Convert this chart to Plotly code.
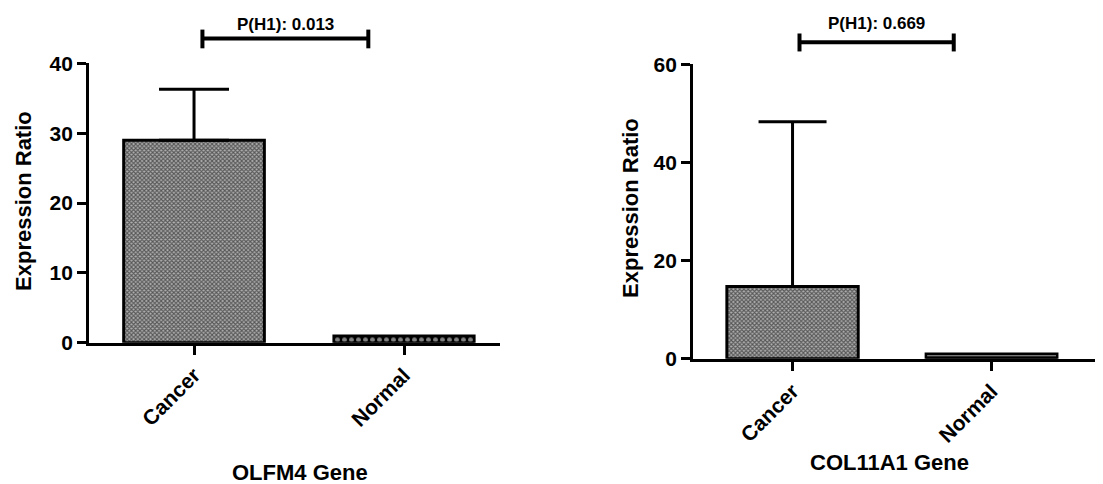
import plotly.graph_objects as go

categories = ["Cancer", "Normal"]
olfm4_mean = [29.0, 1.0]
olfm4_err = [7.3, 0.0]
col11a1_mean = [14.7, 1.0]
col11a1_err = [33.6, 0.0]
p_labels = ["P(H1): 0.013", "P(H1): 0.669"]
gene_titles = ["OLFM4 Gene", "COL11A1 Gene"]
y_ranges = [[0, 40], [0, 60]]
y_ticks = [[0, 10, 20, 30, 40], [0, 20, 40, 60]]

FONT = "Liberation Sans"
fig = go.Figure()

panels = [
    dict(mean=olfm4_mean, err=olfm4_err, xa="x", ya="y", width=0.67, cap=35, nshape="."),
    dict(mean=col11a1_mean, err=col11a1_err, xa="x2", ya="y2", width=0.66, cap=34, nshape="-"),
]

for p in panels:
    # Cancer bar with error bar
    fig.add_trace(go.Bar(
        x=[categories[0]], y=[p["mean"][0]], width=p["width"],
        xaxis=p["xa"], yaxis=p["ya"],
        marker=dict(color="white", line=dict(color="black", width=3),
                    pattern=dict(shape="x", size=3, solidity=0.6,
                                 fgcolor="black", bgcolor="#b0b0b0")),
        error_y=dict(type="data", symmetric=False, array=[p["err"][0]],
                     arrayminus=[0], color="black", thickness=3, width=p["cap"]),
        showlegend=False, cliponaxis=False,
    ))
    # Normal bar
    fig.add_trace(go.Bar(
        x=[categories[1]], y=[p["mean"][1]], width=p["width"],
        xaxis=p["xa"], yaxis=p["ya"],
        marker=dict(color="black", line=dict(color="black", width=2.5),
                    pattern=dict(shape=p["nshape"], size=7, solidity=0.4,
                                 fgcolor="white", bgcolor="black")),
        showlegend=False, cliponaxis=False,
    ))

axis_common = dict(showline=True, linecolor="black", linewidth=3, ticks="outside",
                   ticklen=9, tickwidth=3, tickcolor="black", showgrid=False,
                   zeroline=False,
                   tickfont=dict(family=FONT, size=21, color="black", weight="bold"))

fig.update_layout(
    width=1095, height=476, margin=dict(l=0, r=0, t=0, b=0),
    plot_bgcolor="white", paper_bgcolor="white", barmode="overlay",
    xaxis=dict(domain=[0.0740, 0.4493], range=[-0.5, 1.457], anchor="y",
               tickangle=-45, **axis_common),
    yaxis=dict(domain=[0.2876, 0.9042], range=y_ranges[0], tickvals=y_ticks[0],
               anchor="x", **axis_common),
    xaxis2=dict(domain=[0.6256, 1.0], range=[-0.5, 1.56], anchor="y2",
                tickangle=-45, **axis_common),
    yaxis2=dict(domain=[0.2523, 0.9020], range=y_ranges[1], tickvals=y_ticks[1],
                anchor="x2", **axis_common),
)

# Titles and significance brackets
title_pos = [
    dict(xr="x domain", yr="y domain", xx=0.513, xy=-0.464, yx=-0.161, yy=0.507,
         xd="x", b0=0.04, b1=0.83, by=1.089, c0=1.054, c1=1.121, ty=1.139),
    dict(xr="x2 domain", yr="y2 domain", xx=0.48, xy=-0.353, yx=-0.154, yy=0.512,
         xd="x2", b0=0.035, b1=0.81, by=1.075, c0=1.044, c1=1.105, ty=1.139),
]
for i, t in enumerate(title_pos):
    fig.add_annotation(text=gene_titles[i], xref=t["xr"], yref=t["yr"], x=t["xx"], y=t["xy"],
                       xanchor="center", yanchor="middle", showarrow=False,
                       font=dict(family=FONT, size=22, color="black", weight="bold"))
    fig.add_annotation(text="Expression Ratio", xref=t["xr"], yref=t["yr"], x=t["yx"], y=t["yy"],
                       xanchor="center", yanchor="middle", textangle=-90, showarrow=False,
                       borderpad=0,
                       font=dict(family=FONT, size=22, color="black", weight="bold"))
    fig.add_annotation(text=p_labels[i], xref=t["xd"], yref=t["yr"], x=(t["b0"] + t["b1"]) / 2,
                       y=t["ty"], xanchor="center", yanchor="middle", showarrow=False,
                       font=dict(family=FONT, size=17, color="black", weight="bold"))
    fig.add_shape(type="line", xref=t["xd"], yref=t["yr"], x0=t["b0"], x1=t["b1"],
                  y0=t["by"], y1=t["by"], line=dict(color="black", width=4))
    for bx in (t["b0"], t["b1"]):
        fig.add_shape(type="line", xref=t["xd"], yref=t["yr"], x0=bx, x1=bx,
                      y0=t["c0"], y1=t["c1"], line=dict(color="black", width=4))

fig.write_html("out.html")
